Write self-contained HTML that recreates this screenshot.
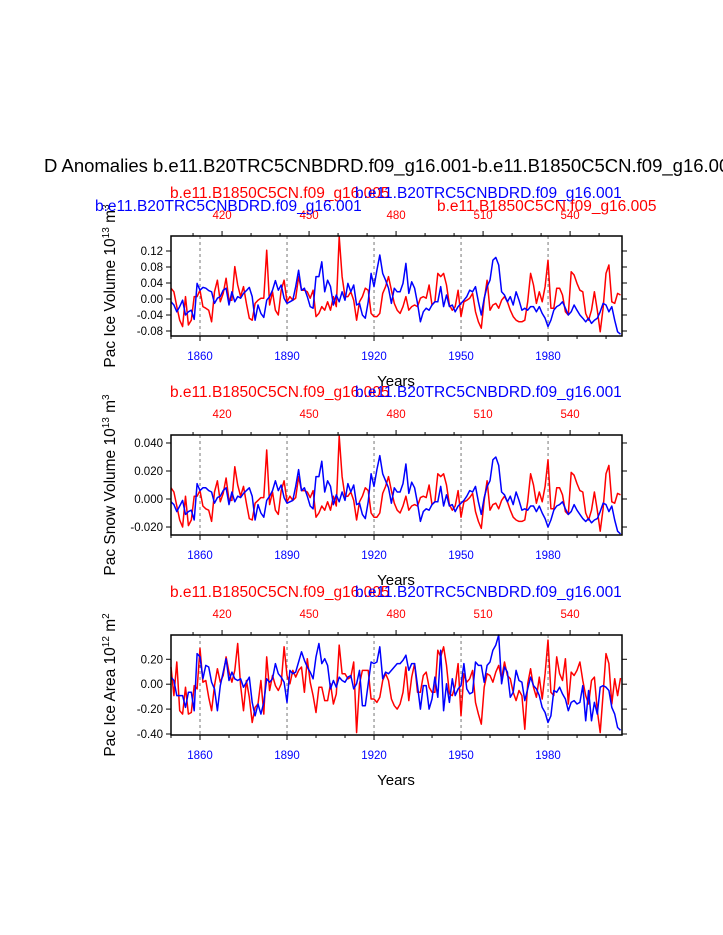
<!DOCTYPE html>
<html><head><meta charset="utf-8"><style>
body{margin:0;background:#fff;}
svg{display:block;font-family:"Liberation Sans",Arial,sans-serif;}
</style></head><body>
<svg id="chart" width="723" height="935" viewBox="0 0 723 935">
<rect width="723" height="935" fill="#fff"/>
<text x="44" y="172" font-size="18.5">D Anomalies b.e11.B20TRC5CNBDRD.f09_g16.001-b.e11.B1850C5CN.f09_g16.005</text>
</svg>
<script>
const years=[];for(let y=1850;y<=2005;y++)years.push(y);
const bottomTicks=[1860,1890,1920,1950,1980];
const topTicks=[420,450,480,510,540];
const iceVolBlue=[-0.007,-0.015,-0.032,-0.019,-0.003,-0.040,-0.032,-0.028,-0.051,0.039,0.022,0.029,0.027,0.021,0.018,-0.011,0.002,0.006,0.022,0.027,-0.015,0.018,-0.007,0.006,0.002,0.014,0.021,0.029,0.006,-0.053,-0.015,-0.036,-0.046,-0.003,0.006,0.022,0.046,0.022,0.035,0.002,-0.011,-0.007,-0.003,0.031,0.072,0.022,0.027,0.006,-0.019,-0.023,0.056,0.056,0.093,0.018,0.047,0.031,-0.015,0.010,-0.007,0.018,-0.003,0.039,0.018,0.035,-0.015,-0.011,-0.040,-0.048,-0.007,0.064,0.031,0.072,0.110,0.064,0.047,0.027,-0.011,0.027,0.018,
0.018,0.039,0.089,0.014,0.043,0.027,-0.011,-0.057,-0.032,-0.023,-0.028,-0.015,-0.007,-0.007,0.031,-0.019,0.010,-0.019,-0.015,-0.032,-0.019,-0.011,-0.003,0.006,0.022,0.018,0.031,-0.007,-0.040,0.002,0.031,0.047,0.097,0.104,0.085,0.018,0.010,-0.007,0.006,-0.015,0.018,-0.003,-0.028,-0.023,-0.028,-0.019,-0.019,-0.032,-0.019,-0.036,-0.048,-0.069,-0.053,-0.028,-0.019,-0.015,-0.007,-0.023,-0.040,-0.032,-0.015,-0.028,-0.040,-0.048,-0.057,-0.048,-0.061,-0.053,-0.048,-0.032,-0.011,-0.015,-0.032,-0.019,-0.053,-0.082,-0.088];
const iceVolRed=[0.027,0.018,-0.019,-0.053,-0.069,0.006,-0.065,-0.053,0.006,0.006,0.022,-0.019,-0.023,-0.028,-0.057,0.018,0.047,-0.007,0.014,0.052,-0.003,-0.003,0.081,0.035,0.006,0.031,-0.011,-0.048,-0.053,-0.011,-0.003,0.002,0.002,0.122,-0.015,0.018,-0.028,-0.040,0.022,0.047,-0.007,0.006,-0.003,0.002,0.056,0.022,0.022,0.018,0.002,0.022,-0.044,-0.036,-0.019,-0.028,-0.007,-0.028,0.006,-0.019,0.156,0.056,0.006,0.006,0.018,-0.003,-0.053,-0.007,0.006,0.027,0.022,-0.036,-0.044,-0.044,-0.036,0.014,0.031,0.056,0.022,-0.011,-0.028,
-0.036,-0.019,0.006,-0.028,-0.019,-0.015,-0.019,0.002,0.006,0.002,0.035,-0.015,-0.007,0.064,0.056,0.064,0.035,-0.015,-0.028,-0.019,0.022,-0.044,-0.007,-0.003,0.002,0.014,-0.032,-0.057,-0.073,-0.003,0.047,-0.028,-0.015,-0.011,-0.023,-0.003,0.006,-0.007,-0.028,-0.044,-0.053,-0.057,-0.057,-0.053,-0.007,0.064,0.035,-0.011,0.018,-0.007,0.031,0.097,-0.023,-0.023,0.027,0.027,0.010,-0.032,-0.040,0.068,0.060,0.039,0.022,0.018,-0.036,-0.053,-0.028,0.018,-0.028,-0.082,-0.023,0.064,0.085,-0.007,-0.011,0.014,0.010];
const snowBlue=[-0.002,-0.004,-0.009,-0.005,-0.001,-0.011,-0.009,-0.008,-0.015,0.011,0.006,0.008,0.008,0.006,0.005,-0.003,0.001,0.002,0.006,0.008,-0.004,0.005,-0.002,0.002,0.001,0.004,0.006,0.008,0.002,-0.015,-0.004,-0.010,-0.013,-0.001,0.002,0.006,0.013,0.006,0.010,0.001,-0.003,-0.002,-0.001,0.009,0.021,0.006,0.008,0.002,-0.005,-0.007,0.016,0.016,0.027,0.005,0.013,0.009,-0.004,0.003,-0.002,0.005,-0.001,0.011,0.005,0.010,-0.004,-0.003,-0.011,-0.014,-0.002,0.018,0.009,0.021,0.031,0.018,0.013,0.008,-0.003,0.008,0.005,
0.005,0.011,0.025,0.004,0.012,0.008,-0.003,-0.016,-0.009,-0.007,-0.008,-0.004,-0.002,-0.002,0.009,-0.005,0.003,-0.005,-0.004,-0.009,-0.005,-0.003,-0.001,0.002,0.006,0.005,0.009,-0.002,-0.011,0.001,0.009,0.013,0.028,0.030,0.024,0.005,0.003,-0.002,0.002,-0.004,0.005,-0.001,-0.008,-0.007,-0.008,-0.005,-0.005,-0.009,-0.005,-0.010,-0.014,-0.020,-0.015,-0.008,-0.005,-0.004,-0.002,-0.007,-0.011,-0.009,-0.004,-0.008,-0.011,-0.014,-0.016,-0.014,-0.017,-0.015,-0.014,-0.009,-0.003,-0.004,-0.009,-0.005,-0.015,-0.023,-0.025];
const snowRed=[0.008,0.005,-0.005,-0.015,-0.020,0.002,-0.019,-0.015,0.002,0.002,0.006,-0.005,-0.007,-0.008,-0.016,0.005,0.013,-0.002,0.004,0.015,-0.001,-0.001,0.023,0.010,0.002,0.009,-0.003,-0.014,-0.015,-0.003,-0.001,0.001,0.001,0.035,-0.004,0.005,-0.008,-0.011,0.006,0.013,-0.002,0.002,-0.001,0.001,0.016,0.006,0.006,0.005,0.001,0.006,-0.013,-0.010,-0.005,-0.008,-0.002,-0.008,0.002,-0.005,0.045,0.016,0.002,0.002,0.005,-0.001,-0.015,-0.002,0.002,0.008,0.006,-0.010,-0.013,-0.013,-0.010,0.004,0.009,0.016,0.006,-0.003,-0.008,
-0.010,-0.005,0.002,-0.008,-0.005,-0.004,-0.005,0.001,0.002,0.001,0.010,-0.004,-0.002,0.018,0.016,0.018,0.010,-0.004,-0.008,-0.005,0.006,-0.013,-0.002,-0.001,0.001,0.004,-0.009,-0.016,-0.021,-0.001,0.013,-0.008,-0.004,-0.003,-0.007,-0.001,0.002,-0.002,-0.008,-0.013,-0.015,-0.016,-0.016,-0.015,-0.002,0.018,0.010,-0.003,0.005,-0.002,0.009,0.028,-0.007,-0.007,0.008,0.008,0.003,-0.009,-0.011,0.019,0.017,0.011,0.006,0.005,-0.010,-0.015,-0.008,0.005,-0.008,-0.023,-0.007,0.018,0.024,-0.002,-0.003,0.004,0.003];
const areaBlue=[0.057,0.030,-0.092,-0.092,-0.092,-0.186,-0.065,-0.065,-0.213,0.246,0.219,0.043,0.151,0.138,0.016,-0.038,-0.213,-0.011,0.097,0.205,0.030,0.097,0.043,0.030,0.043,-0.024,0.016,0.057,-0.146,-0.254,-0.159,-0.240,-0.146,0.043,0.016,0.043,0.165,0.084,0.057,0.016,-0.146,0.111,0.084,0.097,0.178,0.260,0.192,0.138,0.097,0.043,0.219,0.327,0.165,0.205,0.151,-0.038,0.030,-0.024,0.057,0.030,0.016,0.057,0.070,-0.038,0.003,0.111,-0.173,-0.173,0.003,0.178,0.165,0.178,0.300,0.043,0.097,0.084,0.111,0.138,0.165,
0.165,0.192,0.233,0.111,0.165,0.165,-0.011,-0.200,-0.011,-0.011,-0.200,-0.119,0.057,-0.105,0.273,-0.213,0.003,-0.146,0.043,-0.092,-0.038,-0.011,0.165,-0.038,-0.078,-0.065,0.178,0.151,0.151,0.016,0.151,0.178,0.273,0.314,0.395,0.003,0.138,0.097,-0.105,-0.065,0.111,0.030,0.016,-0.132,-0.038,0.057,-0.011,-0.038,-0.092,-0.186,-0.227,-0.308,-0.254,-0.051,-0.065,-0.024,-0.078,-0.119,-0.213,-0.146,-0.132,-0.159,-0.146,-0.011,-0.294,-0.051,-0.294,-0.146,-0.240,-0.024,-0.011,-0.024,-0.051,-0.186,-0.240,-0.348,-0.370];
const areaRed=[0.138,-0.092,0.178,-0.213,-0.240,-0.024,-0.240,-0.227,-0.011,-0.038,0.287,0.016,0.030,-0.105,-0.213,-0.011,0.124,0.016,0.070,0.219,0.097,0.016,0.111,0.327,-0.011,-0.213,0.030,-0.105,-0.308,-0.186,-0.159,0.030,-0.240,0.219,-0.051,0.070,-0.011,-0.051,0.003,0.300,0.070,0.003,0.111,0.057,0.111,0.138,-0.065,0.205,0.016,-0.092,-0.227,-0.024,-0.024,-0.132,-0.132,0.003,-0.159,-0.078,0.314,0.084,0.084,0.043,0.057,0.178,-0.389,0.003,0.111,0.111,0.111,-0.119,-0.119,-0.146,-0.105,0.030,0.084,0.030,-0.119,-0.173,-0.200,
-0.159,-0.065,0.138,-0.132,0.057,0.165,-0.065,-0.065,0.070,0.097,-0.024,-0.065,-0.065,0.273,0.219,0.300,0.151,-0.078,-0.092,-0.011,0.165,-0.254,0.084,0.016,0.043,0.111,-0.146,-0.240,-0.321,-0.024,0.084,0.070,0.016,0.097,0.151,0.043,0.178,0.070,0.043,-0.065,-0.132,-0.051,-0.092,-0.362,0.003,0.124,-0.024,-0.105,0.057,-0.119,0.084,0.354,-0.065,-0.092,0.219,0.084,0.030,0.205,-0.159,0.097,0.070,0.111,0.178,0.030,-0.092,-0.159,0.030,0.057,-0.213,-0.389,-0.078,0.246,0.165,-0.159,0.043,-0.092,0.050];
const volTicks=[0.12,0.08,0.04,0.00,-0.04,-0.08];
const volTickLabels=["0.12","0.08","0.04","0.00","-0.04","-0.08"];
const snowTicks=[0.04,0.02,0,-0.02];
const snowTickLabels=["0.040","0.020","0.000","-0.020"];
const areaTicks=[0.2,0,-0.2,-0.4];
const areaTickLabels=["0.20","0.00","-0.20","-0.40"];

const NS="http://www.w3.org/2000/svg";
const svg=document.getElementById('chart');
const L=171,R=622;
function el(tag,attrs,parent){const e=document.createElementNS(NS,tag);for(const k in attrs)e.setAttribute(k,attrs[k]);(parent||svg).appendChild(e);return e;}
function xOfYear(y){return L+(y-1850)*(R-L)/155.5;}
function xOfModel(y){return L+(y-402.4)*(R-L)/155.5;}

const panels=[
 {name:'ice-volume',top:236,bot:336,ymax:0.1575,ymin:-0.0925,blue:iceVolBlue,red:iceVolRed,ticks:volTicks,labels:volTickLabels,titleY:[198,211],ylab:'Pac Ice Volume 10',sup:'13',unit:' m',usup:'3',split:true},
 {name:'snow-volume',top:435,bot:535,ymax:0.0457,ymin:-0.0257,blue:snowBlue,red:snowRed,ticks:snowTicks,labels:snowTickLabels,titleY:[397,397],ylab:'Pac Snow Volume 10',sup:'13',unit:' m',usup:'3',split:false},
 {name:'ice-area',top:635,bot:735,ymax:0.395,ymin:-0.408,blue:areaBlue,red:areaRed,ticks:areaTicks,labels:areaTickLabels,titleY:[597,597],ylab:'Pac Ice Area 10',sup:'12',unit:' m',usup:'2',split:false}
];
panels.forEach(p=>{
 const g=el('g',{});
 
 
 const yOf=v=>p.top+(p.ymax-v)/(p.ymax-p.ymin)*(p.bot-p.top);
 bottomTicks.forEach(t=>{const l=el('line',{x1:xOfYear(t),x2:xOfYear(t),y1:p.top,y2:p.bot,stroke:'#555','stroke-width':0.8,'stroke-dasharray':'3,3'},g);
  });
 [['red',p.red,'#ff0000'],['blue',p.blue,'#0000ff']].forEach(([nm,arr,c])=>{
  const d=arr.map((v,i)=>(i?'L':'M')+xOfYear(years[i]).toFixed(1)+','+yOf(v).toFixed(1)).join('');
  const path=el('path',{d:d,fill:'none',stroke:c,'stroke-width':1.5,'stroke-linejoin':'round'},g);
  
  
 });
 const box=el('rect',{x:L,y:p.top,width:R-L,height:p.bot-p.top,fill:'none',stroke:'#000','stroke-width':1.5},g);
 
 for(let yr=1850;yr<=2000;yr+=10){const x=xOfYear(yr);el('line',{x1:x,x2:x,y1:p.bot,y2:p.bot+(yr%30==0?5:3),stroke:'#000'},g);}
 bottomTicks.forEach(t=>{const tx=el('text',{x:xOfYear(t),y:p.bot+24,'font-size':11.5,fill:'#0000ff','text-anchor':'middle'},g);tx.textContent=t;
  });
 for(let yr=410;yr<=550;yr+=10){const x=xOfModel(yr);el('line',{x1:x,x2:x,y1:p.top,y2:p.top-(yr%30==0?5:3),stroke:'#000'},g);}
 topTicks.forEach(t=>{const tx=el('text',{x:xOfModel(t),y:p.top-17,'font-size':11.5,fill:'#ff0000','text-anchor':'middle'},g);tx.textContent=t;
  });
 p.ticks.forEach((t,i)=>{const y=yOf(t);el('line',{x1:L-5,x2:L,y1:y,y2:y,stroke:'#000'},g);el('line',{x1:R,x2:R+5,y1:y,y2:y,stroke:'#000'},g);
  const tx=el('text',{x:L-8,y:y+4,'font-size':11.5,'text-anchor':'end'},g);tx.textContent=p.labels[i];
  });
 const xt=el('text',{x:396,y:p.bot+50,'font-size':15,'text-anchor':'middle'},g);xt.textContent='Years';
 
 const cy=(p.top+p.bot)/2;
 const yt=el('text',{x:0,y:0,'font-size':15.5,'text-anchor':'middle',transform:'translate(115,'+cy+') rotate(-90)'},g);
 yt.innerHTML=p.ylab+'<tspan dy="-6" font-size="10">'+p.sup+'</tspan><tspan dy="6">'+p.unit+'</tspan><tspan dy="-6" font-size="10">'+p.usup+'</tspan>';
 
 const t1=el('text',{x:170,y:p.titleY[0],'font-size':15.5,fill:'#ff0000'},g);t1.textContent='b.e11.B1850C5CN.f09_g16.005';
 
 const t2=el('text',{x:355,y:p.titleY[0],'font-size':15.5,fill:'#0000ff'},g);t2.textContent='b.e11.B20TRC5CNBDRD.f09_g16.001';
 
 if(p.split){
  const t3=el('text',{x:95,y:p.titleY[1],'font-size':15.5,fill:'#0000ff'},g);t3.textContent='b.e11.B20TRC5CNBDRD.f09_g16.001';
  
  const t4=el('text',{x:437,y:p.titleY[1],'font-size':15.5,fill:'#ff0000'},g);t4.textContent='b.e11.B1850C5CN.f09_g16.005';
  
 }
});
</script>
</body></html>
